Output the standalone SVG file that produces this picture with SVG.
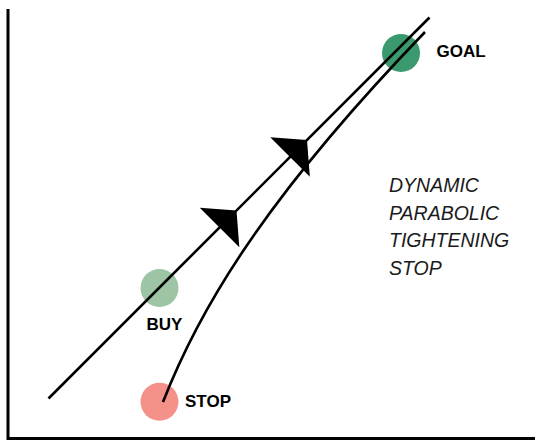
<svg xmlns="http://www.w3.org/2000/svg" width="544" height="448" viewBox="0 0 544 448">
<style>
.ax{stroke:#000;stroke-width:3;fill:none}
.ln{stroke:#000;stroke-width:2.6;fill:none}
.lbl{font-family:"Liberation Sans",Arial,sans-serif;font-weight:bold;font-size:17px;fill:#000}
.note{font-family:"Liberation Sans",Arial,sans-serif;font-style:italic;font-size:19.5px;fill:#1a1a1a}
</style>
<defs>
<polygon id="arr" points="0,0 -24,-28 -24,28" fill="#000"/>
</defs>
<rect width="544" height="448" fill="#fff"/>
<g id="axes">
<path class="ax" d="M8,9 V438.5 H535"/>
</g>
<g id="nodes">
<g id="goal"><circle cx="401" cy="53" r="19" fill="#3a9a6e"/><text class="lbl" x="436.5" y="57">GOAL</text></g>
<g id="buy"><circle cx="159.5" cy="288" r="19" fill="#9dc5a5"/><text class="lbl" x="146.5" y="330">BUY</text></g>
<g id="stop"><circle cx="159.5" cy="401.7" r="19" fill="#f4928a"/><text class="lbl" x="185" y="407">STOP</text></g>
</g>
<g id="connectors">
<path class="ln" d="M48.5,398.5 L429.5,17.5"/>
<path class="ln" d="M163,402 C195,320 255,208 425,32"/>
<use href="#arr" transform="translate(236.5,210.5) rotate(-45)"/>
<use href="#arr" transform="translate(307,140) rotate(-45)"/>
</g>
<g id="note">
<text class="note" x="389" y="192">DYNAMIC</text>
<text class="note" x="389" y="219.5">PARABOLIC</text>
<text class="note" x="389" y="247">TIGHTENING</text>
<text class="note" x="389" y="274.5">STOP</text>
</g>
</svg>
